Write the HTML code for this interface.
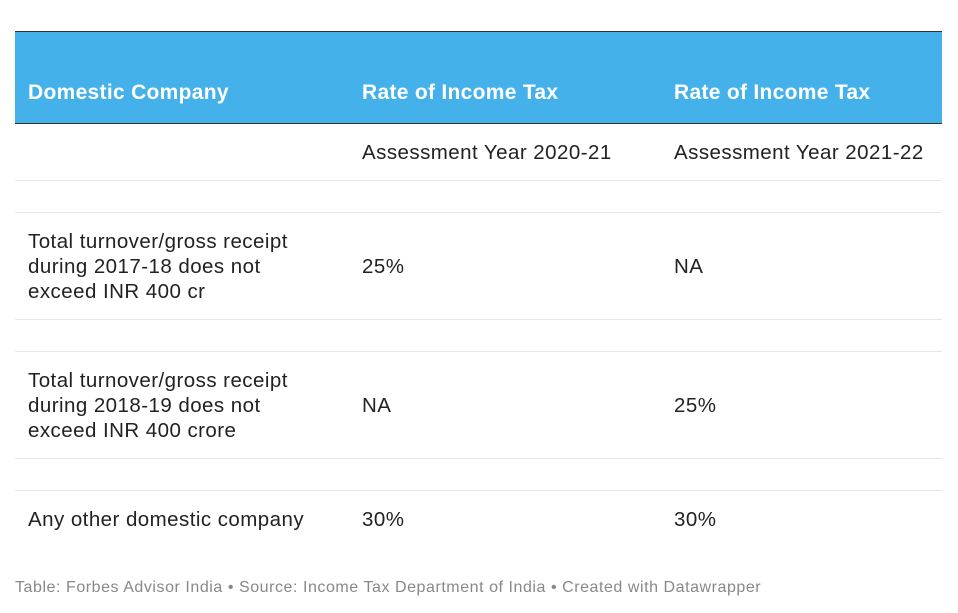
<!DOCTYPE html><html><head><style>
body{margin:0;width:958px;height:613px;background:#fff;font-family:"Liberation Sans",sans-serif;position:relative;overflow:hidden}
.a{position:absolute}
.h{background:#44b1ea;left:15px;top:31px;width:927px;height:91px;border-top:1px solid #333;border-bottom:1px solid #333}
.ht{color:#fff;font-weight:bold;font-size:21px;letter-spacing:0.3px;top:81px}
.t{color:#222;font-size:20.5px;letter-spacing:0.45px;line-height:25px}
.l{left:15px;width:927px;height:1px;background:#e6e6e6}
.f{color:#888;font-size:16px;letter-spacing:0.55px;top:579px;left:15px}
</style></head><body>
<div class="a h"></div>
<div class="a ht" style="left:28px">Domestic Company</div>
<div class="a ht" style="left:362px">Rate of Income Tax</div>
<div class="a ht" style="left:674px">Rate of Income Tax</div>
<div class="a t" style="left:362px;top:140px">Assessment Year 2020-21</div>
<div class="a t" style="left:674px;top:140px">Assessment Year 2021-22</div>
<div class="a l" style="top:180px"></div>
<div class="a l" style="top:212px"></div>
<div class="a t" style="left:28px;top:229px">Total turnover/gross receipt<br>during 2017-18 does not<br>exceed INR 400 cr</div>
<div class="a t" style="left:362px;top:254px">25%</div>
<div class="a t" style="left:674px;top:254px">NA</div>
<div class="a l" style="top:319px"></div>
<div class="a l" style="top:351px"></div>
<div class="a t" style="left:28px;top:368px">Total turnover/gross receipt<br>during 2018-19 does not<br>exceed INR 400 crore</div>
<div class="a t" style="left:362px;top:393px">NA</div>
<div class="a t" style="left:674px;top:393px">25%</div>
<div class="a l" style="top:458px"></div>
<div class="a l" style="top:490px"></div>
<div class="a t" style="left:28px;top:507px">Any other domestic company</div>
<div class="a t" style="left:362px;top:507px">30%</div>
<div class="a t" style="left:674px;top:507px">30%</div>
<div class="a f">Table: Forbes Advisor India • Source: Income Tax Department of India • Created with Datawrapper</div>
</body></html>
